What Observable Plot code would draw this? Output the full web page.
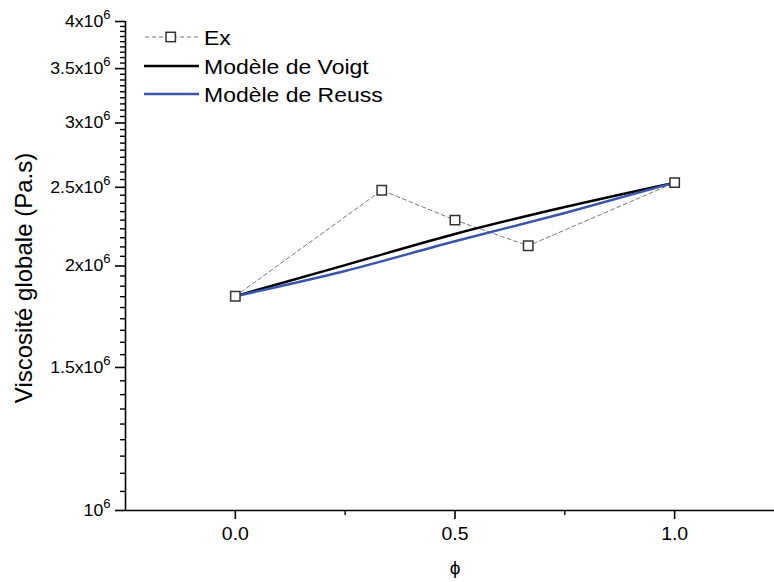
<!DOCTYPE html>
<html>
<head>
<meta charset="utf-8">
<script src="https://cdn.jsdelivr.net/npm/d3@7"></script>
<script src="https://cdn.jsdelivr.net/npm/@observablehq/plot@0.6"></script>
<style>
  html, body { margin: 0; padding: 0; background: #fff; }
  #wrap { position: relative; width: 774px; height: 582px; font-family: "Liberation Sans", Arial, sans-serif; }
  #legend { position: absolute; left: 0; top: 0; }
</style>
</head>
<body>
<div id="wrap"><div id="chart"></div>
<svg id="legend" width="420" height="120"></svg></div>
<script>
// ---- data ----
const exPhi = [0, 1/3, 0.5, 2/3, 1];
const exVisc = [1.836e6, 2.479e6, 2.278e6, 2.118e6, 2.533e6];
const modelPhi = [0, 0.25, 0.5, 0.75, 1];
const voigtVisc = [1.836e6, 2.005e6, 2.19e6, 2.364e6, 2.533e6];
const reussVisc = [1.836e6, 1.972e6, 2.145e6, 2.324e6, 2.533e6];
const yMajorTicks = [1e6, 1.5e6, 2e6, 2.5e6, 3e6, 3.5e6, 4e6];
const yTickLabels = ["10^6", "1.5x10^6", "2x10^6", "2.5x10^6", "3x10^6", "3.5x10^6", "4x10^6"];
const xMajorTicks = [0, 0.5, 1];
const xTickLabels = ["0.0", "0.5", "1.0"];
const xMinorTicks = [0.25, 0.75];
const seriesNames = ["Ex", "Modèle de Voigt", "Modèle de Reuss"];
const seriesColors = ["#666", "#000", "#3a55a9"];
const yTitle = "Viscosité globale (Pa.s)";
const xTitle = "ϕ";

// minor y ticks: 8 per major interval
const yMinorTicks = [];
for (let i = 0; i < yMajorTicks.length - 1; i++) {
  const a = yMajorTicks[i], b = yMajorTicks[i + 1];
  for (let k = 1; k <= 8; k++) yMinorTicks.push(a + (b - a) * k / 9);
}

const ex = exPhi.map((x, i) => ({x, y: exVisc[i]}));
const voigt = modelPhi.map((x, i) => ({x, y: voigtVisc[i]}));
const reuss = modelPhi.map((x, i) => ({x, y: reussVisc[i]}));

const yLabelMap = new Map(yMajorTicks.map((v, i) => [v, yTickLabels[i]]));
const xLabelMap = new Map(xMajorTicks.map((v, i) => [v, xTickLabels[i]]));

const FONT = '"Liberation Sans", Arial, sans-serif';

const chart = Plot.plot({
  width: 774,
  height: 582,
  marginLeft: 125,
  marginRight: 0,
  marginTop: 21,
  marginBottom: 72,
  style: {fontFamily: FONT, fontSize: "17px", color: "#000", background: "#fff"},
  x: {domain: [-0.25, 1.2273]},
  y: {type: "log", domain: [1e6, 4e6]},
  marks: [
    Plot.axisY({ticks: yMinorTicks, tickSize: 5, tickFormat: () => "", label: null, strokeWidth: 1.4}),
    Plot.axisY({ticks: yMajorTicks, tickSize: 10, tickPadding: 5, strokeWidth: 1.6,
      tickFormat: d => yLabelMap.get(d), label: null}),
    Plot.axisX({ticks: xMinorTicks, tickSize: 5, tickFormat: () => "", label: null, strokeWidth: 1.4}),
    Plot.axisX({ticks: xMajorTicks, tickSize: 9, tickPadding: 8, strokeWidth: 1.6,
      tickFormat: d => xLabelMap.get(d), label: null}),
    Plot.ruleX([-0.25], {stroke: "#000", strokeWidth: 1.6}),
    Plot.ruleY([1e6], {stroke: "#000", strokeWidth: 1.6}),
    Plot.text([yTitle], {text: d => d, frameAnchor: "left", textAnchor: "middle", rotate: -90,
      dx: -101, dy: 12, fontSize: 24, fill: "#000"}),
    Plot.text([xTitle], {text: d => d, x: () => 0.5, frameAnchor: "bottom", dy: 63,
      fontSize: 19, fill: "#000"}),
    Plot.line(ex, {x: "x", y: "y", stroke: "#777", strokeWidth: 1, strokeDasharray: "4,3"}),
    Plot.line(voigt, {x: "x", y: "y", stroke: seriesColors[1], strokeWidth: 2.5, curve: "monotone-x"}),
    Plot.line(reuss, {x: "x", y: "y", stroke: seriesColors[2], strokeWidth: 2.5, curve: "monotone-x"}),
    Plot.dot(ex, {x: "x", y: "y", symbol: "square", r: 5.3, stroke: "#333", strokeWidth: 1.5, fill: "#fff"})
  ]
});
document.getElementById("chart").appendChild(chart);

function stretch(t, f) {
  const w = t.getComputedTextLength();
  t.setAttribute("textLength", (w * f).toFixed(1));
  t.setAttribute("lengthAdjust", "spacingAndGlyphs");
}

// tick label sizes, superscripts
chart.querySelectorAll("text").forEach(t => {
  const s = t.textContent;
  if (yTickLabels.includes(s)) {
    t.style.fontSize = "17px";
    const [base, exp] = s.split("^");
    t.textContent = base;
    const sup = document.createElementNS("http://www.w3.org/2000/svg", "tspan");
    sup.setAttribute("dy", "-8");
    sup.style.fontSize = "12.5px";
    sup.textContent = exp;
    t.appendChild(sup);
    stretch(t, 1.04);
  } else if (xTickLabels.includes(s)) {
    t.style.fontSize = "18px";
    stretch(t, 1.08);
  }
});

// legend
const lg = d3.select("#legend");
const rows = [37, 66, 94];
rows.forEach((y, i) => {
  if (i === 0) {
    lg.append("line").attr("x1", 145).attr("x2", 198).attr("y1", y).attr("y2", y)
      .attr("stroke", "#777").attr("stroke-width", 1).attr("stroke-dasharray", "4,3");
    lg.append("rect").attr("x", 166).attr("y", y - 4.7).attr("width", 9.4).attr("height", 9.4)
      .attr("fill", "#fff").attr("stroke", "#333").attr("stroke-width", 1.5);
  } else {
    lg.append("line").attr("x1", 144).attr("x2", 199).attr("y1", y).attr("y2", y)
      .attr("stroke", seriesColors[i]).attr("stroke-width", 2.5);
  }
  const t = lg.append("text").attr("x", 204).attr("y", y + 7.5)
    .style("font-size", "20.5px")
    .attr("font-family", FONT).attr("fill", "#000")
    .text(seriesNames[i]);
  stretch(t.node(), 1.12);
});
</script>
</body>
</html>
